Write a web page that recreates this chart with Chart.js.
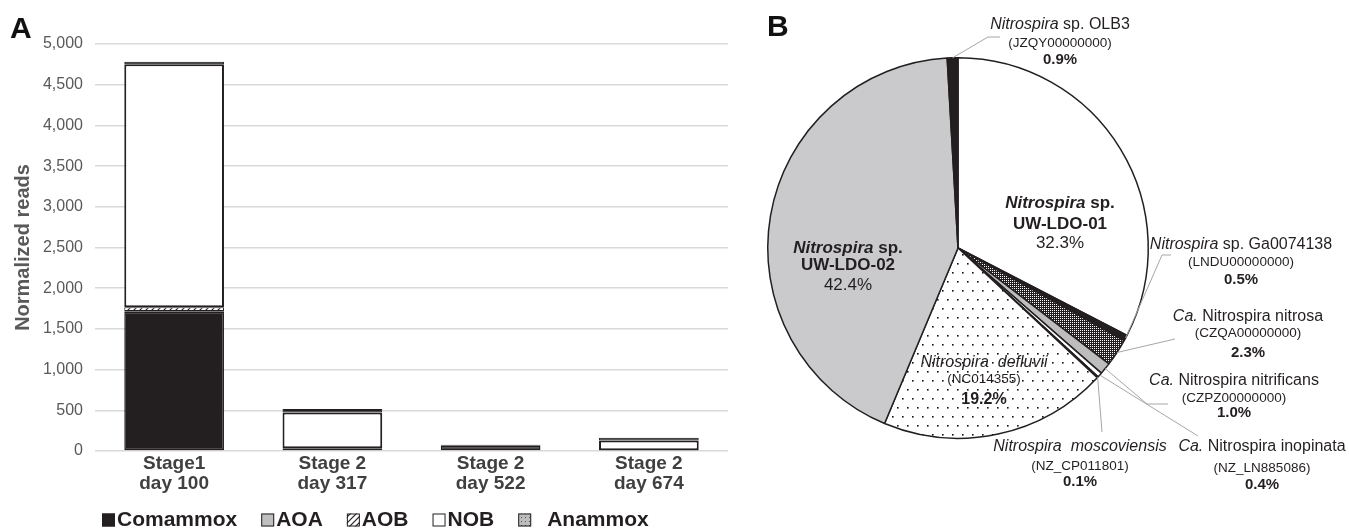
<!DOCTYPE html>
<html>
<head>
<meta charset="utf-8">
<script src="https://cdn.jsdelivr.net/npm/chart.js@4.4.1/dist/chart.umd.min.js"></script>
<style>
    html, body { margin: 0; padding: 0; background: #fff; }
    #page { position: relative; width: 1349px; height: 528px; overflow: hidden; }
    .panel { position: absolute; top: 0; height: 528px; }
    .tag { position: absolute; font: bold 30px "Liberation Sans", Arial, sans-serif; color: #111; line-height: 34px; }
</style>
</head>
<body>
<div id="page">
    <div class="panel" style="left:0;width:740px"><canvas id="barChart" width="740" height="528"></canvas></div>
    <div class="panel" style="left:740px;width:609px"><canvas id="pieChart" width="609" height="528"></canvas></div>
    <div class="tag" style="left:10px;top:11px">A</div>
    <div class="tag" style="left:767px;top:9px">B</div>
</div>
<script>
const FONT = '"Liberation Sans", Arial, sans-serif';
const INK = '#231f20';

// Панель A: нормализованные прочтения по группам
const stages = [['Stage1', 'day 100'], ['Stage 2', 'day 317'], ['Stage 2', 'day 522'], ['Stage 2', 'day 674']];
const comammox = [1710, 8, 62, 5];
const aoa = [10, 0, 0, 0];
const aob = [45, 25, 0, 5];
const nob = [2985, 440, 4, 120];
const anammox = [32, 42, 10, 32];
const yMax = 5000;
const yStep = 500;

// Панель B: доли геномов Nitrospira (%)
const pieTaxa = [
    '*Nitrospira* sp.', '*Nitrospira* sp. Ga0074138', '*Ca.* Nitrospira nitrosa',
    '*Ca.* Nitrospira nitrificans', '*Ca.* Nitrospira inopinata', '*Nitrospira  moscoviensis*',
    '*Nitrospira  defluvii*', '*Nitrospira* sp.', '*Nitrospira* sp. OLB3'
];
const pieIds = [
    'UW-LDO-01', '(LNDU00000000)', '(CZQA00000000)', '(CZPZ00000000)', '(NZ_LN885086)',
    '(NZ_CP011801)', '(NC014355)', 'UW-LDO-02', '(JZQY00000000)'
];
const piePercent = [32.3, 0.5, 2.3, 1.0, 0.4, 0.1, 19.2, 42.4, 0.9];

// Штриховки
function makePattern(w, h, bg, draw) {
    const c = document.createElement('canvas');
    c.width = w; c.height = h;
    const g = c.getContext('2d');
    g.fillStyle = bg;
    g.fillRect(0, 0, w, h);
    draw(g);
    return g.createPattern(c, 'repeat');
}
const hatch = makePattern(6, 6, '#fff', g => {
    g.strokeStyle = INK; g.lineWidth = 1.2;
    g.beginPath(); g.moveTo(0, 6); g.lineTo(6, 0); g.moveTo(-1, 1); g.lineTo(1, -1); g.moveTo(5, 7); g.lineTo(7, 5); g.stroke();
});
const greyDots = makePattern(4, 4, '#bdbdbd', g => { g.fillStyle = '#555'; g.fillRect(1, 1, 1, 1); });
const sparseDots = makePattern(10, 18, '#fff', g => {
    g.fillStyle = '#111'; g.fillRect(2, 2, 1.6, 1.6); g.fillRect(7, 11, 1.6, 1.6);
});
const checker = makePattern(2, 2, INK, g => { g.fillStyle = '#fff'; g.fillRect(0, 0, 1, 1); });

// Легенда под столбцами (образец берётся из legendFill, если он есть)
const barLegend = {
    id: 'barLegend',
    afterDraw(chart) {
        const ctx = chart.ctx;
        let x = 102;
        const y = 520;
        ctx.save();
        ctx.font = 'bold 21px ' + FONT;
        ctx.textBaseline = 'middle';
        chart.data.datasets.forEach((ds, i) => {
            ctx.fillStyle = ds.legendFill || ds.backgroundColor;
            ctx.fillRect(x, y - 6.5, 13, 13);
            ctx.strokeStyle = INK;
            ctx.lineWidth = 1;
            ctx.strokeRect(x + 0.5, y - 6, 12, 12);
            x += i === 4 ? 29 : 15;
            ctx.fillStyle = INK;
            ctx.fillText(ds.label, x, y);
            x += ctx.measureText(ds.label).width + 24;
        });
        ctx.restore();
    }
};

new Chart(document.getElementById('barChart'), {
    type: 'bar',
    data: {
        labels: stages,
        datasets: [
            { label: 'Comammox', data: comammox, backgroundColor: INK, borderColor: INK, borderWidth: 1.5 },
            { label: 'AOA', data: aoa, backgroundColor: '#bfbfbf', borderColor: INK, borderWidth: 1 },
            { label: 'AOB', data: aob, backgroundColor: hatch, borderColor: INK, borderWidth: 1 },
            { label: 'NOB', data: nob, backgroundColor: '#fff', borderColor: INK, borderWidth: 2 },
            { label: 'Anammox', data: anammox, backgroundColor: INK, legendFill: greyDots, borderColor: INK, borderWidth: 1 },
        ],
    },
    options: {
        responsive: false,
        animation: false,
        events: [],
        layout: { padding: { left: 0, right: 12, top: 44, bottom: 27 } },
        datasets: { bar: { categoryPercentage: 1, barPercentage: 0.63, borderSkipped: false } },
        plugins: { legend: { display: false }, tooltip: { enabled: false } },
        scales: {
            x: {
                stacked: true,
                grid: { display: false, drawTicks: false },
                border: { display: false },
                ticks: { color: '#404040', padding: 3, font: { family: FONT, size: 19, weight: 'bold', lineHeight: 1.05 } },
                afterFit: (s) => { s.height = 50; },
            },
            y: {
                stacked: true,
                min: 0,
                max: yMax,
                ticks: { stepSize: yStep, color: '#595959', padding: 12, font: { family: FONT, size: 16 } },
                grid: { color: '#d9d9d9', lineWidth: 1.5, drawTicks: false },
                border: { display: false },
                title: {
                    display: true, text: 'Normalized reads', color: '#595959',
                    font: { family: FONT, size: 20, weight: 'bold' }, padding: { top: 11, bottom: 0 },
                },
                afterFit: (s) => { s.width = 95; },
            },
        },
    },
    plugins: [barLegend],
});

// Подписи круговой диаграммы (смещения от центра)
const pieLabelPos = [
    { dx: 102, dy: [-45, -24, -5], inner: true },
    { dx: 283, dy: [-3, 14, 32], leader: [[204, 7], [213, 7]] },
    { dx: 290, dy: [69, 85, 105], leader: [[217, 91]] },
    { dx: 276, dy: [133, 150, 165], leader: [[189, 156], [210, 156]] },
    { dx: 304, dy: [199, 220, 237], leader: [[240, 188]] },
    { dx: 122, dy: [199, 218, 234], leader: [[144, 184]] },
    { dx: 26, dy: [115, 131, 152], inner: true, plain: true },
    { dx: -110, dy: [0, 17, 37], inner: true },
    { dx: 102, dy: [-223, -205, -188], leader: [[30, -211], [42, -211]] },
];

function drawRich(ctx, text, cx, cy, size, bold) {
    const parts = text.split('*').map((t, i) => ({ t, it: i % 2 === 1 })).filter(p => p.t);
    const fontOf = p => (p.it ? 'italic ' : '') + (bold ? 'bold ' : '') + size + 'px ' + FONT;
    let w = 0;
    parts.forEach(p => { ctx.font = fontOf(p); w += ctx.measureText(p.t).width; });
    let x = cx - w / 2;
    parts.forEach(p => {
        ctx.font = fontOf(p);
        ctx.fillText(p.t, x, cy);
        x += ctx.measureText(p.t).width;
    });
}

const pieLabels = {
    id: 'pieLabels',
    afterDraw(chart) {
        const ctx = chart.ctx;
        const arcs = chart.getDatasetMeta(0).data;
        const cx = arcs[0].x, cy = arcs[0].y, r = arcs[0].outerRadius;
        ctx.save();
        ctx.textAlign = 'left';
        ctx.textBaseline = 'middle';
        ctx.fillStyle = INK;
        pieLabelPos.forEach((p, i) => {
            if (p.leader) {
                const a = (arcs[i].startAngle + arcs[i].endAngle) / 2;
                ctx.beginPath();
                ctx.moveTo(cx + Math.cos(a) * r, cy + Math.sin(a) * r);
                p.leader.forEach(([lx, ly]) => ctx.lineTo(cx + lx, cy + ly));
                ctx.strokeStyle = '#a6a6a6';
                ctx.lineWidth = 1;
                ctx.stroke();
            }
            const x = cx + p.dx;
            const pct = piePercent[i].toFixed(1) + '%';
            if (p.inner && !p.plain) {
                drawRich(ctx, pieTaxa[i], x, cy + p.dy[0], 17, true);
                drawRich(ctx, pieIds[i], x, cy + p.dy[1], 17, true);
                drawRich(ctx, pct, x, cy + p.dy[2], 17, false);
            } else {
                drawRich(ctx, pieTaxa[i], x, cy + p.dy[0], 16, false);
                drawRich(ctx, pieIds[i], x, cy + p.dy[1], 13.5, false);
                drawRich(ctx, pct, x, cy + p.dy[2], p.inner ? 16 : 15, true);
            }
        });
        ctx.restore();
    }
};

new Chart(document.getElementById('pieChart'), {
    type: 'pie',
    data: {
        labels: pieIds,
        datasets: [{
            data: piePercent,
            backgroundColor: ['#fff', INK, checker, '#bdbdbd', '#fff', INK, sparseDots, '#cacacc', INK],
            borderColor: INK,
            borderWidth: 1.5,
            hoverOffset: 0,
        }],
    },
    options: {
        responsive: false,
        animation: false,
        events: [],
        layout: { padding: { left: 27, right: 200, top: 57, bottom: 89 } },
        plugins: { legend: { display: false }, tooltip: { enabled: false } },
    },
    plugins: [pieLabels],
});
</script>
</body>
</html>
